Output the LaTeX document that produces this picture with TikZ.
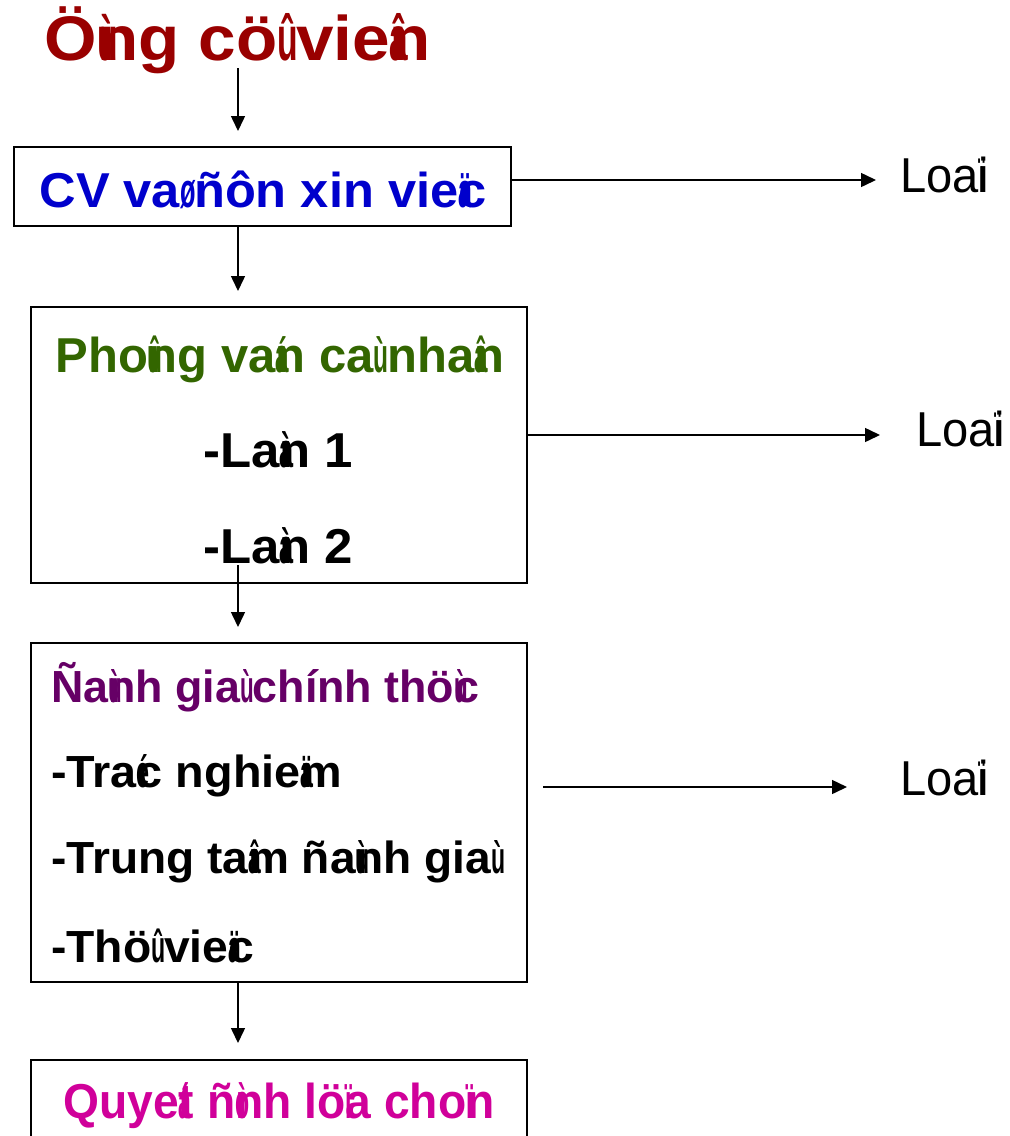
\documentclass[tikz,border=0pt]{standalone}
\usepackage{fontspec}
\usepackage{graphicx}
\setmainfont{Liberation Sans}
\usetikzlibrary{arrows.meta}
% VNI tone marks: a squeezed glyph with no advance, run into the next letter
\newcommand\vnac[1]{\rlap{\scalebox{0.5}[1]{#1}}}
% set a line to a given width, keeping its height
\newcommand\fitw[2]{\resizebox{#1pt}{\height}{#2}}
\definecolor{ttlred}{HTML}{990000}
\definecolor{cvblue}{HTML}{0000CC}
\definecolor{pvgreen}{HTML}{336600}
\definecolor{dgpurple}{HTML}{660066}
\definecolor{qdmag}{HTML}{D0009A}
\begin{document}
\begin{tikzpicture}[x=1pt,y=-1pt,
  stagebox/.style={draw=black,line width=1.6pt,fill=white,inner sep=0pt},
  arr/.style={line width=1.5pt,-{Triangle[length=15pt,width=14pt]}},
  bigtxt/.style={font=\fontsize{49}{56}\selectfont\bfseries,inner sep=0pt},
  midtxt/.style={font=\fontsize{45}{52}\selectfont\bfseries,inner sep=0pt,anchor=base west},
  loaitxt/.style={font=\fontsize{49}{56}\selectfont,inner sep=0pt,anchor=base west}]
\useasboundingbox (0,0) rectangle (1010,1136);
\clip (0,0) rectangle (1010,1136);

% stage boxes
\node[stagebox,minimum width=497,minimum height=79] (cv) at (262.5,186.5) {};
\node[stagebox,minimum width=496,minimum height=276] (pv) at (279,445) {};
\node[stagebox,minimum width=496,minimum height=339] (dg) at (279,812.5) {};
\node[stagebox,minimum width=496,minimum height=120] (qd) at (279,1120) {};

% texts
\node[font=\fontsize{63}{70}\selectfont\bfseries,text=ttlred,inner sep=0pt,anchor=base] (title) at (238,60)
  {\fitw{386}{Ö\vnac{ù}ng cö\vnac{û} vie\vnac{â}n}};
\node[bigtxt,text=cvblue,anchor=base] (cvt) at (263,207) {\fitw{447}{CV va\vnac{ø} ñôn xin vie\vnac{ä}c}};
\node[bigtxt,text=pvgreen,anchor=base] (pvt) at (280,372) {\fitw{449}{Pho\vnac{û}ng va\vnac{á}n ca\vnac{ù} nha\vnac{â}n}};
\node[bigtxt,anchor=base west] (pv1) at (203,467) {\fitw{150}{-La\vnac{à}n 1}};
\node[bigtxt,anchor=base west] (pv2) at (203,563) {\fitw{150}{-La\vnac{à}n 2}};
\node[midtxt,text=dgpurple] (dgt) at (51,702) {\fitw{428}{Ña\vnac{ù}nh gia\vnac{ù} chính thö\vnac{ù}c}};
\node[midtxt] (dg1) at (51,787) {\fitw{291}{-Tra\vnac{é}c nghie\vnac{ä}m}};
\node[midtxt] (dg2) at (51,873) {\fitw{454}{-Trung ta\vnac{â}m ña\vnac{ù}nh gia\makebox[0.3em][l]{\scalebox{0.5}[1]{ù}}}};
\node[midtxt] (dg3) at (51,962) {\fitw{203}{-Thö\vnac{û} vie\vnac{ä}c}};
\node[bigtxt,text=qdmag,anchor=base] (qdt) at (279,1118) {\fitw{431}{Quye\vnac{á}t ñ\vnac{ò}nh lö\vnac{ï}a cho\vnac{ï}n}};

\node[loaitxt] (loai1) at (900,192) {\fitw{89}{Loa\vnac{ï}i}};
\node[loaitxt] (loai2) at (916,446) {\fitw{89}{Loa\vnac{ï}i}};
\node[loaitxt] (loai3) at (900,795) {\fitw{89}{Loa\vnac{ï}i}};

% connector ends
\coordinate (a0) at (238,68);   \coordinate (a1) at (238,131);
\coordinate (b0) at (238,226);  \coordinate (b1) at (238,291);
\coordinate (c0) at (238,565);  \coordinate (c1) at (238,627);
\coordinate (d0) at (238,982);  \coordinate (d1) at (238,1043);
\coordinate (r1a) at (511,180); \coordinate (r1b) at (876,180);
\coordinate (r2a) at (527,435); \coordinate (r2b) at (880,435);
\coordinate (r3a) at (543,787); \coordinate (r3b) at (847,787);

% flow arrows
\draw[arr] (a0) -- (a1);
\draw[arr] (b0) -- (b1);
\draw[arr] (c0) -- (c1);
\draw[arr] (d0) -- (d1);
\draw[arr] (r1a) -- (r1b);
\draw[arr] (r2a) -- (r2b);
\draw[arr] (r3a) -- (r3b);
\end{tikzpicture}
\end{document}
